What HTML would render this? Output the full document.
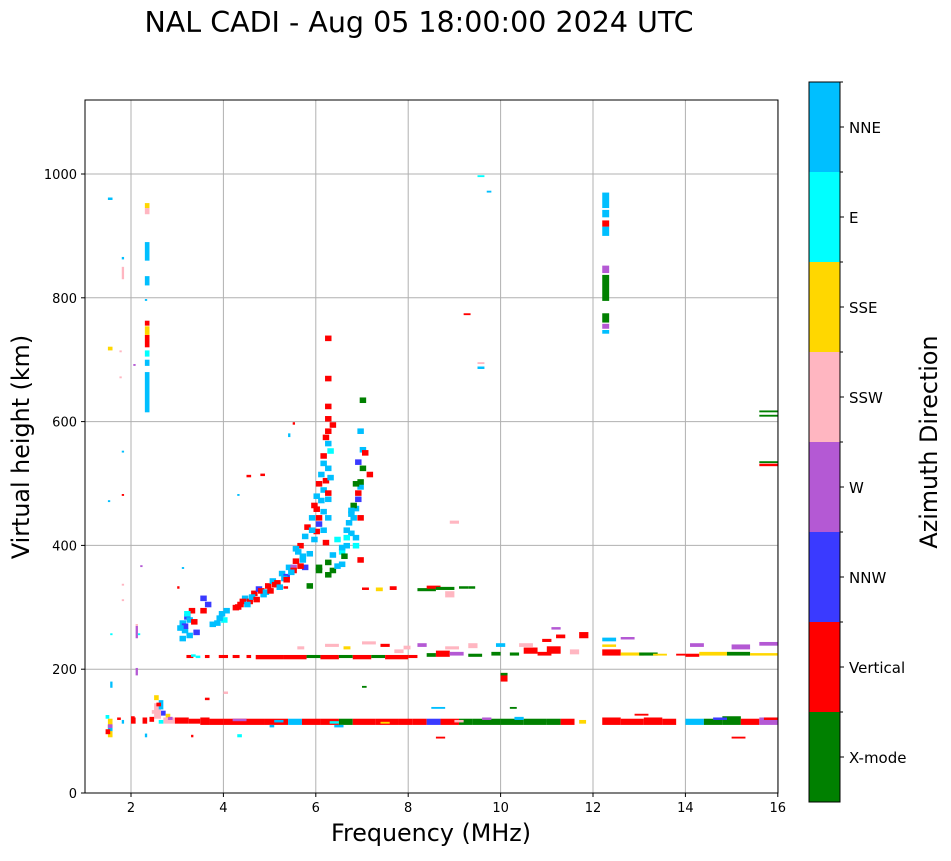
<!DOCTYPE html>
<html><head><meta charset="utf-8"><style>
body{margin:0;background:#fff;font-family:"Liberation Sans","DejaVu Sans",sans-serif}
svg text{font-family:"DejaVu Sans","Liberation Sans",sans-serif}
</style></head><body>
<svg id="chart" width="951" height="856" xmlns="http://www.w3.org/2000/svg">
<text x="419" y="32" font-size="28.5" text-anchor="middle">NAL CADI - Aug 05 18:00:00 2024 UTC</text>
<g id="grid"></g>
<g id="marks"></g>
<rect x="85" y="100" width="693" height="693" fill="none" stroke="#000" stroke-width="1"/>
<g id="ticks"></g>
<text x="431" y="841" font-size="23.8" text-anchor="middle">Frequency (MHz)</text>
<text x="0" y="0" font-size="23.8" text-anchor="middle" transform="translate(29,447) rotate(-90)">Virtual height (km)</text>
<g id="cbar"></g>
<text x="0" y="0" font-size="23.8" text-anchor="middle" transform="translate(937,442) rotate(-90)">Azimuth Direction</text>
</svg>
<script>
const categories=["X-mode","Vertical","NNW","W","SSW","SSE","E","NNE"];
const colors=["#008000","#ff0000","#3a3aff","#b459d4","#ffb6c1","#ffd700","#00ffff","#00bfff"];
const xTicks=[2,4,6,8,10,12,14,16];
const yTicks=[0,200,400,600,800,1000];
// [freq MHz, height km, width MHz, height span km, category index]
const eBand=[[2.0,112,0.1,10,1],[2.25,112,0.1,10,1],[2.7,112,0.25,10,4],[2.95,112,0.3,10,1],[3.25,112,0.25,8,1],[3.5,110,0.2,12,1],[3.7,110,0.3,10,1],[4.0,110,0.5,10,1],[4.5,110,0.4,10,1],[4.9,110,0.5,10,1],[5.4,110,0.3,10,7],[5.7,110,0.4,10,1],[6.1,110,0.4,10,1],[6.5,110,0.3,10,0],[6.8,110,0.5,10,1],[7.3,110,0.5,10,1],[7.8,110,0.3,10,1],[8.1,110,0.3,10,1],[8.4,110,0.3,10,2],[8.7,110,0.4,10,1],[9.1,110,0.3,10,0],[9.4,110,0.6,10,0],[10.0,110,0.5,10,0],[10.5,110,0.5,10,0],[11.0,110,0.3,10,0],[11.3,110,0.3,10,1],[11.7,112,0.15,6,5],[12.2,110,0.4,12,1],[12.6,110,0.5,10,1],[13.1,110,0.4,12,1],[13.5,110,0.3,10,1],[14.0,110,0.4,10,7],[14.4,110,0.4,10,0],[14.8,110,0.4,14,0],[15.2,110,0.4,10,1],[15.6,110,0.4,12,3],[4.2,116,0.3,4,3],[5.1,114,0.2,4,7],[6.3,112,0.2,4,6],[9.0,114,0.2,4,4],[10.3,118,0.2,5,7],[10.7,114,0.3,5,0],[14.6,118,0.3,4,2],[15.7,118,0.3,4,1],[8.6,88,0.2,3,1],[15.0,88,0.3,3,1],[12.9,125,0.3,3,1],[10.0,180,0.15,14,1],[10.0,190,0.15,4,0],[10.2,136,0.15,3,0],[8.5,136,0.3,3,7],[7.0,170,0.1,3,0],[5.0,106,0.1,4,7],[6.4,106,0.2,4,7],[7.4,112,0.2,3,5],[9.6,118,0.2,4,3]];
const fBand=[[3.6,218,0.1,5,1],[3.9,218,0.2,5,1],[4.2,218,0.15,5,1],[4.5,218,0.1,5,1],[4.7,216,0.6,7,1],[5.3,216,0.5,7,1],[5.8,218,0.3,5,0],[6.1,216,0.4,7,1],[6.5,218,0.3,5,0],[6.8,216,0.4,7,1],[7.2,218,0.3,5,0],[7.5,216,0.5,7,1],[8.0,218,0.2,5,1],[8.4,220,0.2,6,0],[8.6,220,0.3,10,1],[8.9,222,0.3,6,3],[9.3,220,0.3,5,0],[9.8,222,0.2,6,0],[10.2,222,0.2,5,0],[10.5,225,0.3,10,1],[10.8,222,0.3,6,1],[11.0,225,0.3,12,1],[11.5,224,0.2,8,4],[12.2,222,0.4,10,1],[12.6,222,0.5,5,5],[13.0,222,0.4,5,0],[13.3,222,0.3,3,5],[13.8,222,0.2,3,1],[14.0,220,0.3,5,1],[14.3,222,0.6,6,5],[14.9,222,0.5,6,0],[15.4,222,0.6,4,5],[15.0,232,0.4,8,3],[15.6,238,0.4,6,3],[14.1,236,0.3,6,3],[12.2,245,0.3,6,7],[12.6,248,0.3,4,3],[12.2,236,0.3,4,5],[8.2,236,0.2,6,3],[8.8,232,0.3,5,4],[9.9,236,0.2,6,7],[10.4,236,0.3,6,4],[10.9,244,0.2,5,1],[11.2,250,0.2,6,1],[11.7,250,0.2,10,1],[11.1,264,0.2,4,3],[9.3,234,0.2,8,4],[7.0,240,0.3,5,4],[7.4,236,0.2,5,1],[6.2,236,0.3,5,4],[5.3,330,0.1,4,1],[7.0,328,0.15,4,1],[7.3,326,0.15,6,5],[7.6,328,0.15,6,1],[8.2,326,0.4,5,0],[8.4,330,0.3,5,1],[8.6,328,0.4,5,0],[8.8,316,0.2,10,4],[9.1,330,0.2,4,0],[9.3,330,0.15,4,0],[3.2,218,0.15,5,1],[3.4,218,0.1,4,6],[5.6,232,0.15,5,4],[6.6,232,0.15,5,5],[7.7,226,0.2,6,4],[7.9,232,0.15,6,4]];
const traceF=[3.05,3.1,3.15,3.2,3.25,3.05,3.6,3.5,3.8,3.9,3.95,4.3,4.4,4.5,4.6,4.7,4.8,4.9,5.0,5.1,5.2,5.3,5.35,5.5,5.55,5.6,5.7,5.75,5.85,5.9,5.95,6.0,6.05,6.0,6.1,5.5,5.45,5.7,5.8,6.1,6.2,6.2,6.2,6.2,6.2,6.2,6.2,6.1,6.0,6.2,6.3,6.15,6.3,6.5,6.6,6.7,6.75,6.8,6.85,6.9,6.95,6.95,6.9,6.95,7.1,6.8,6.6,6.5,6.9,6.8,4.2,4.35,4.55,4.75,5.05,5.25,5.45,5.65,
3.1,3.2,3.3,3.15,3.0,3.35,3.5,3.7,3.85,4.0,4.25,4.45,4.65,4.85,4.95,5.15,5.3,5.4,5.6,5.65,5.8,5.9,5.95,6.0,6.05,6.1,6.15,6.2,6.2,6.2,6.25,6.3,6.4,6.5,6.55,6.6,6.65,6.7,6.75,6.8,6.85,6.9,7.0,6.9,6.85,6.7,6.6,6.4,6.2,6.0,5.95,5.85,6.15,6.1,6.25];
const traceH=[270,258,280,250,290,245,300,290,270,285,275,300,310,305,318,325,316,330,338,335,350,345,360,370,385,395,410,425,440,460,475,495,510,430,450,390,360,360,330,540,600,560,580,620,665,730,520,420,355,368,380,400,355,365,395,415,440,455,470,490,520,550,580,630,510,495,420,385,440,395,295,305,312,322,332,342,355,378,
265,275,272,285,262,255,310,268,278,290,296,300,308,320,322,328,340,352,362,372,382,405,418,440,468,485,500,440,480,470,505,590,405,392,378,420,432,446,460,408,530,498,545,372,480,452,408,362,348,360,454,420,570,528,548];
const traceC=[7,7,2,7,1,7,2,1,7,7,6,1,7,1,1,2,7,1,7,1,7,2,7,1,7,1,7,1,7,1,7,1,7,2,7,7,3,2,0,1,1,7,1,1,1,1,7,7,0,0,7,1,0,7,7,7,7,7,2,7,0,7,7,0,1,0,7,6,1,6,1,1,7,1,1,7,1,7,
2,7,1,6,7,2,2,7,7,7,1,7,1,7,1,7,1,7,1,7,7,7,1,1,7,7,1,7,1,7,7,1,6,7,0,7,7,7,0,7,2,0,1,1,1,7,6,7,0,0,1,7,1,7,6];
const columns=[[2.3,615,0.1,65,7],[2.3,690,0.1,10,7],[2.3,705,0.1,10,6],[2.3,720,0.1,20,1],[2.3,740,0.1,14,5],[2.3,755,0.1,8,1],[2.3,820,0.1,15,7],[2.3,860,0.1,30,7],[2.3,935,0.1,10,4],[2.3,945,0.1,8,5],[1.5,715,0.1,6,5],[1.5,958,0.1,4,7],[1.8,830,0.05,20,4],[1.8,862,0.05,4,7],[12.2,900,0.15,15,7],[12.2,915,0.15,10,1],[12.2,930,0.15,12,7],[12.2,945,0.15,25,7],[12.2,840,0.15,12,3],[12.2,795,0.15,42,0],[12.2,760,0.15,15,0],[12.2,750,0.15,8,3],[12.2,742,0.15,6,7],[15.6,608,0.4,3,0],[15.6,615,0.4,3,0],[15.6,528,0.4,4,1],[15.6,533,0.4,3,0],[9.5,995,0.15,3,6],[9.7,970,0.1,3,7],[9.2,772,0.15,3,1],[9.5,685,0.15,4,7],[9.5,693,0.15,3,4],[8.9,435,0.2,5,4],[1.5,90,0.1,30,5],[1.5,100,0.1,10,7],[1.55,170,0.05,10,7],[1.8,112,0.05,6,7],[2.5,120,0.15,25,4],[2.6,135,0.1,15,7],[2.5,150,0.1,8,5],[2.3,90,0.05,6,7],[4.3,90,0.1,5,6],[3.3,90,0.05,4,1],[4.0,160,0.1,4,4],[3.6,150,0.1,4,1],[1.5,470,0.05,3,7],[1.8,480,0.05,3,1],[1.8,550,0.05,3,7],[2.1,190,0.05,12,3],[2.1,250,0.05,20,3],[3.1,362,0.05,3,7],[4.8,512,0.1,4,1],[5.4,575,0.05,6,7],[5.5,595,0.05,4,1],
[1.45,95,0.1,8,1],[1.5,105,0.1,6,3],[1.45,120,0.08,6,6],[1.7,118,0.08,4,1],[2.0,118,0.08,6,1],[2.4,115,0.1,8,1],[2.45,128,0.1,6,4],[2.55,140,0.1,6,1],[2.65,125,0.1,8,2],[2.75,122,0.1,6,5],[2.6,112,0.1,6,6],[2.8,118,0.1,5,3],[1.8,335,0.05,3,4],[1.8,310,0.05,3,4],[2.1,270,0.05,3,4],[2.15,255,0.05,3,6],[1.55,255,0.05,3,6],[2.2,365,0.05,3,3],[1.75,670,0.05,3,4],[1.75,712,0.05,3,4],[2.3,795,0.05,3,7],[2.05,690,0.05,3,3],[3.3,220,0.1,4,6],[3.0,330,0.05,4,1],[4.3,480,0.05,3,7],[4.5,510,0.1,4,1]];
const sx=f=>84.8+(f-1)*46.2;
const sy=h=>793-h*0.619;
const NS="http://www.w3.org/2000/svg";
function mk(t,a){const e=document.createElementNS(NS,t);for(const k in a)e.setAttribute(k,a[k]);return e;}
const grid=document.getElementById('grid'),ticks=document.getElementById('ticks'),marks=document.getElementById('marks'),cbar=document.getElementById('cbar');
xTicks.forEach(v=>{const x=sx(v);
 const l=mk('line',{x1:x,x2:x,y1:100,y2:793,stroke:'#b0b0b0','stroke-width':1});
 
 grid.appendChild(l);
 const t=mk('line',{x1:x,x2:x,y1:793,y2:797,stroke:'#000'});ticks.appendChild(t);
 const tx=mk('text',{x:x,y:812,'font-size':13,'text-anchor':'middle'});tx.textContent=v;
 
 ticks.appendChild(tx);});
yTicks.forEach(v=>{const y=sy(v);
 const l=mk('line',{x1:85,x2:778,y1:y,y2:y,stroke:'#b0b0b0','stroke-width':1});
 
 grid.appendChild(l);
 const t=mk('line',{x1:81,x2:85,y1:y,y2:y,stroke:'#000'});ticks.appendChild(t);
 const tx=mk('text',{x:77,y:y+5,'font-size':13,'text-anchor':'end'});tx.textContent=v;
 
 ticks.appendChild(tx);});
function rect(f,h,w,dh,c){
 const r=mk('rect',{x:sx(f),y:sy(h+dh),width:Math.max(w*46.2,1.5),height:Math.max(dh*0.619,1.5),fill:colors[c]});
 
 
 marks.appendChild(r);}
[eBand,fBand,columns].forEach(arr=>arr.forEach(m=>rect(m[0],m[1],m[2],m[3],m[4])));
traceF.forEach((f,i)=>rect(f,traceH[i],0.14,9,traceC[i]));
categories.forEach((n,i)=>{const y=802-(i+1)*90;
 const r=mk('rect',{x:809,y:y,width:31,height:90,fill:colors[i]});
 
 cbar.appendChild(r);
 cbar.appendChild(mk('line',{x1:840,x2:844,y1:y+45,y2:y+45,stroke:'#000'}));
 cbar.appendChild(mk('line',{x1:840,x2:843,y1:y,y2:y,stroke:'#000'}));
 const t=mk('text',{x:849,y:y+51,'font-size':15});t.textContent=n;
 
 cbar.appendChild(t);});
cbar.appendChild(mk('rect',{x:809,y:82,width:31,height:720,fill:'none',stroke:'#000'}));
</script>
</body></html>
